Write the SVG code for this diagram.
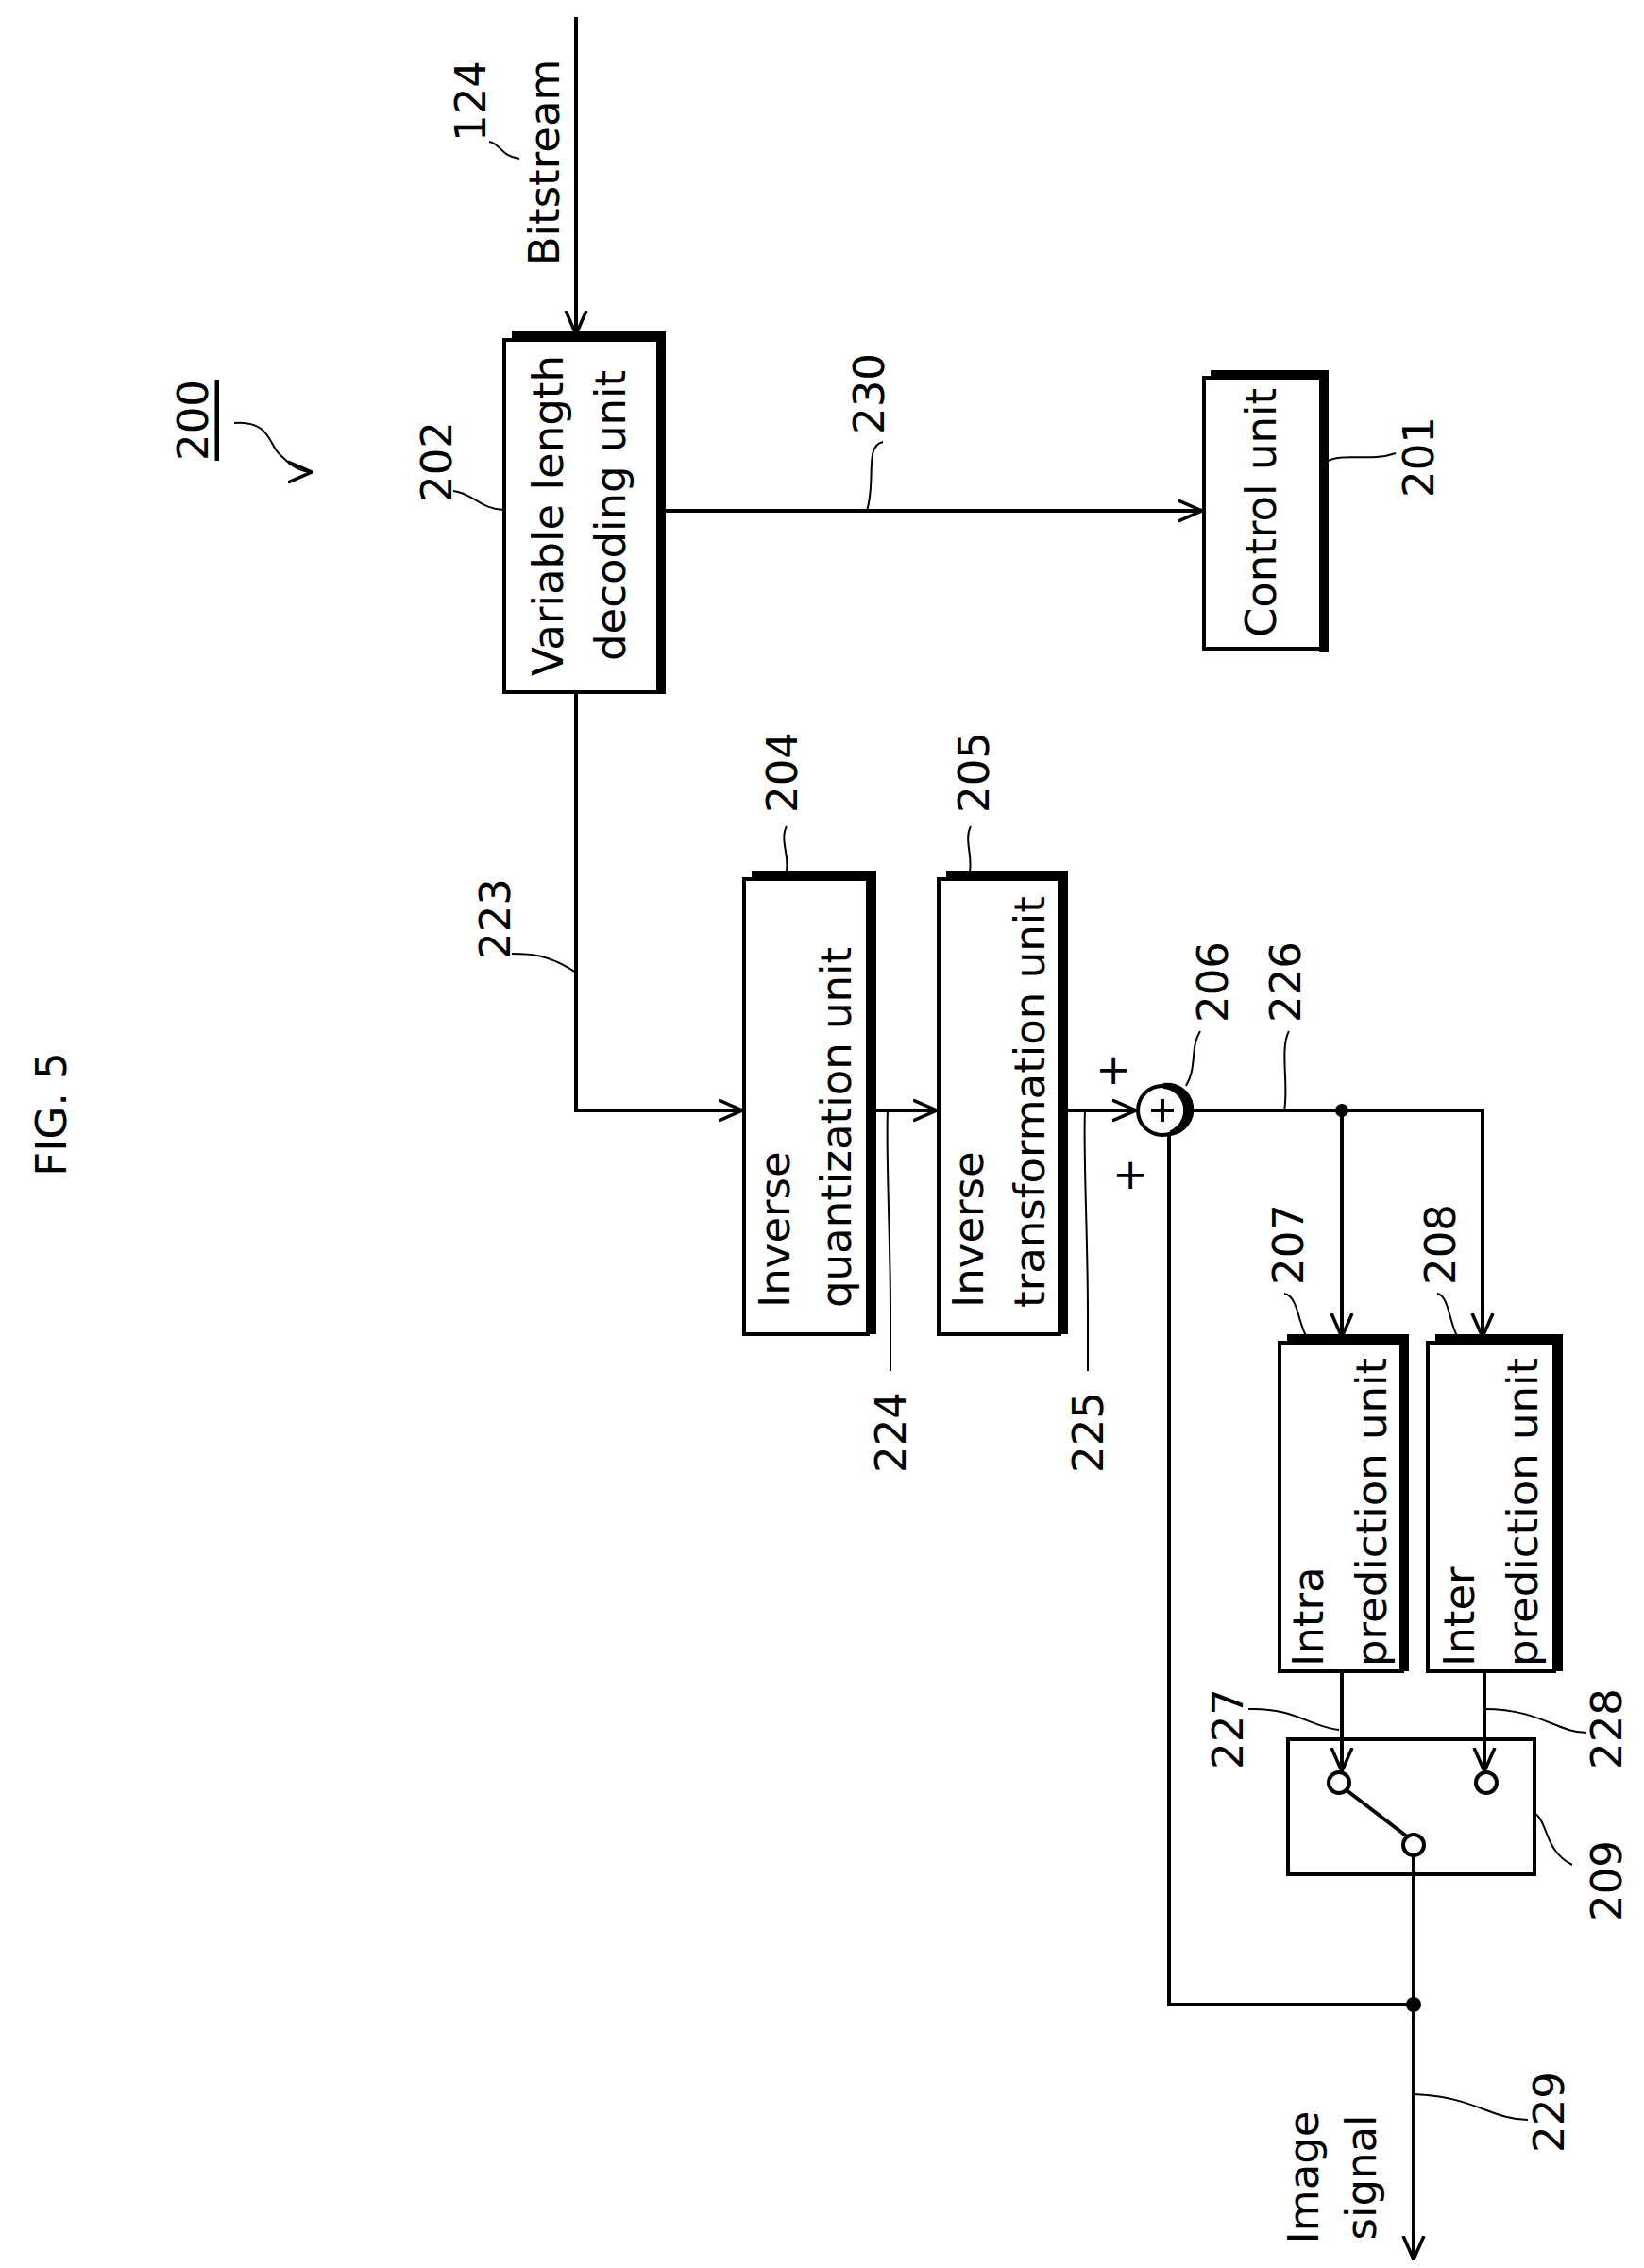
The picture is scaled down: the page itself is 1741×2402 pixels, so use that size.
<svg xmlns="http://www.w3.org/2000/svg" width="1741" height="2402" viewBox="0 0 1741 2402">
<style>
.t{font-family:"DejaVu Sans",sans-serif;font-size:45px;fill:#000;dominant-baseline:central}
.n{font-family:"DejaVu Sans",sans-serif;font-size:45px;fill:#000;dominant-baseline:central;text-anchor:middle}
.b{fill:#fff;stroke:#000;stroke-width:4}
.sh{fill:none;stroke:#000;stroke-width:10}
.w{fill:none;stroke:#000;stroke-width:4}
.l{fill:none;stroke:#000;stroke-width:2}
</style>
<defs>
<marker id="a" viewBox="0 0 26 26" refX="25" refY="13" markerWidth="26" markerHeight="26" markerUnits="userSpaceOnUse" orient="auto"><path d="M0,2 L25,13 L0,24" fill="none" stroke="#000" stroke-width="3.5"/></marker>
</defs>
<rect width="1741" height="2402" fill="#fff"/>
<text class="n" transform="translate(54,1180) rotate(-90)" font-size="60">FIG. 5</text>
<g id="label200"><text class="n" transform="translate(204,445) rotate(-90)" text-decoration="underline">200</text>
<path class="l" d="M248,448 C285,445 285,470 295,480 S315,500 330,500" marker-end="url(#a)"/></g>
<g id="n124"><text class="n" transform="translate(498,107) rotate(-90)">124</text>
<path class="l" d="M518,150 C530,152 530,165 550,168"/>
<text class="n" transform="translate(576,172) rotate(-90)">Bitstream</text></g>
<g id="n202"><rect class="b" x="534" y="360" width="164" height="373"/><path class="sh" d="M542,356 H700 V735"/>
<text class="n" transform="translate(580,546) rotate(-90)">Variable length</text>
<text class="n" transform="translate(646,546) rotate(-90)">decoding unit</text>
<text class="n" transform="translate(462,489) rotate(-90)">202</text>
<path class="l" d="M480,520 C500,522 510,540 534,540"/></g>
<g id="n230"><text class="n" transform="translate(920,417) rotate(-90)">230</text>
<path class="l" d="M935,468 C915,472 928,510 918,541"/></g>
<g id="n201"><rect class="b" x="1275" y="400" width="124" height="287"/><path class="sh" d="M1282,397 H1402 V690"/>
<text class="n" transform="translate(1335,543) rotate(-90)">Control unit</text>
<text class="n" transform="translate(1502,484) rotate(-90)">201</text>
<path class="l" d="M1403,490 C1420,478 1450,490 1478,480"/></g>
<g id="n223"><text class="n" transform="translate(524,973) rotate(-90)">223</text>
<path class="l" d="M542,1010 C560,1010 580,1010 610,1030"/></g>
<g id="n204"><rect class="b" x="788" y="931" width="131" height="482"/><path class="sh" d="M796,927 H923 V1413"/>
<text class="t" transform="translate(820,1385) rotate(-90)">Inverse</text>
<text class="t" transform="translate(885,1385) rotate(-90)">quantization unit</text>
<text class="n" transform="translate(828,818) rotate(-90)">204</text>
<path class="l" d="M833,875 C825,890 838,910 832,927"/></g>
<g id="n205"><rect class="b" x="994" y="931" width="128" height="482"/><path class="sh" d="M1002,927 H1126 V1413"/>
<text class="t" transform="translate(1025,1385) rotate(-90)">Inverse</text>
<text class="t" transform="translate(1090,1385) rotate(-90)">transformation unit</text>
<text class="n" transform="translate(1031,818) rotate(-90)">205</text>
<path class="l" d="M1028,875 C1020,890 1032,910 1026,927"/></g>
<g id="n224"><text class="n" transform="translate(943,1517) rotate(-90)">224</text>
<path class="l" d="M943,1452 V1390 C943,1310 938,1220 940,1176"/></g>
<g id="n225"><text class="n" transform="translate(1152,1517) rotate(-90)">225</text>
<path class="l" d="M1152,1452 V1390 C1152,1310 1147,1220 1149,1176"/></g>
<g id="n206"><circle cx="1231" cy="1176" r="26" fill="#fff" stroke="#000" stroke-width="4"/>
<path d="M1232,1150 A26,26 0 0 1 1240,1200 A24,24 0 0 0 1232,1150 Z" fill="#000" stroke="#000" stroke-width="6"/>
<path class="w" d="M1231,1164 V1188 M1219,1176 H1243"/>
<text class="n" transform="translate(1284,1040) rotate(-90)">206</text>
<path class="l" d="M1271,1092 C1260,1110 1268,1130 1256,1150"/>
<text class="n" transform="translate(1177,1134) rotate(-90)" font-size="32">+</text>
<text class="n" transform="translate(1195,1245) rotate(-90)" font-size="32">+</text></g>
<g id="n226"><text class="n" transform="translate(1361,1040) rotate(-90)">226</text>
<path class="l" d="M1365,1092 C1355,1110 1365,1150 1360,1176"/></g>
<g id="n207"><rect class="b" x="1355" y="1422" width="130" height="348"/><path class="sh" d="M1363,1418 H1487 V1770"/>
<text class="t" transform="translate(1385,1765) rotate(-90)">Intra</text>
<text class="t" transform="translate(1452,1765) rotate(-90)">prediction unit</text>
<text class="n" transform="translate(1364,1318) rotate(-90)">207</text>
<path class="l" d="M1360,1370 C1375,1372 1375,1405 1385,1418"/></g>
<g id="n208"><rect class="b" x="1512" y="1422" width="134" height="348"/><path class="sh" d="M1520,1418 H1650 V1770"/>
<text class="t" transform="translate(1545,1765) rotate(-90)">Inter</text>
<text class="t" transform="translate(1612,1765) rotate(-90)">prediction unit</text>
<text class="n" transform="translate(1525,1318) rotate(-90)">208</text>
<path class="l" d="M1522,1370 C1535,1372 1535,1405 1545,1418"/></g>
<g id="n209"><rect class="b" x="1364" y="1842" width="261" height="143"/>
<circle cx="1418" cy="1888" r="11" fill="#fff" stroke="#000" stroke-width="4"/>
<circle cx="1574" cy="1888" r="11" fill="#fff" stroke="#000" stroke-width="4"/>
<circle cx="1497" cy="1954" r="11" fill="#fff" stroke="#000" stroke-width="4"/>
<path class="w" d="M1426,1896 L1490,1945"/>
<text class="n" transform="translate(1701,1992) rotate(-90)">209</text>
<path class="l" d="M1625,1920 C1640,1930 1635,1960 1665,1975"/></g>
<g id="n227"><text class="n" transform="translate(1300,1831) rotate(-90)">227</text>
<path class="l" d="M1322,1810 C1370,1808 1390,1830 1418,1832"/></g>
<g id="n228"><text class="n" transform="translate(1701,1831) rotate(-90)">228</text>
<path class="l" d="M1680,1835 C1650,1835 1630,1810 1572,1810"/></g>
<g id="n229"><text class="n" transform="translate(1640,2237) rotate(-90)">229</text>
<path class="l" d="M1618,2245 C1580,2245 1560,2220 1497,2218"/>
<text class="n" transform="translate(1380,2306) rotate(-90)">Image</text>
<text class="n" transform="translate(1441,2306) rotate(-90)">signal</text></g>
<g id="connectors">
<path class="w" d="M610,18 V354" marker-end="url(#a)"/>
<path class="w" d="M700,541 H1273" marker-end="url(#a)"/>
<path class="w" d="M610,733 V1176 H786" marker-end="url(#a)"/>
<path class="w" d="M923,1176 H992" marker-end="url(#a)"/>
<path class="w" d="M1126,1176 H1203" marker-end="url(#a)"/>
<path class="w" d="M1257,1176 H1570 V1416" marker-end="url(#a)"/>
<path class="w" d="M1421,1176 V1416" marker-end="url(#a)"/>
<path class="w" d="M1421,1770 V1876" marker-end="url(#a)"/>
<path class="w" d="M1572,1770 V1876" marker-end="url(#a)"/>
<path class="w" d="M1497,1966 V2393" marker-end="url(#a)"/>
<path class="w" d="M1497,2123 H1238 V1202"/>
<circle cx="1421" cy="1176" r="7"/>
<circle cx="1497" cy="2123" r="8"/>
</g>
</svg>
